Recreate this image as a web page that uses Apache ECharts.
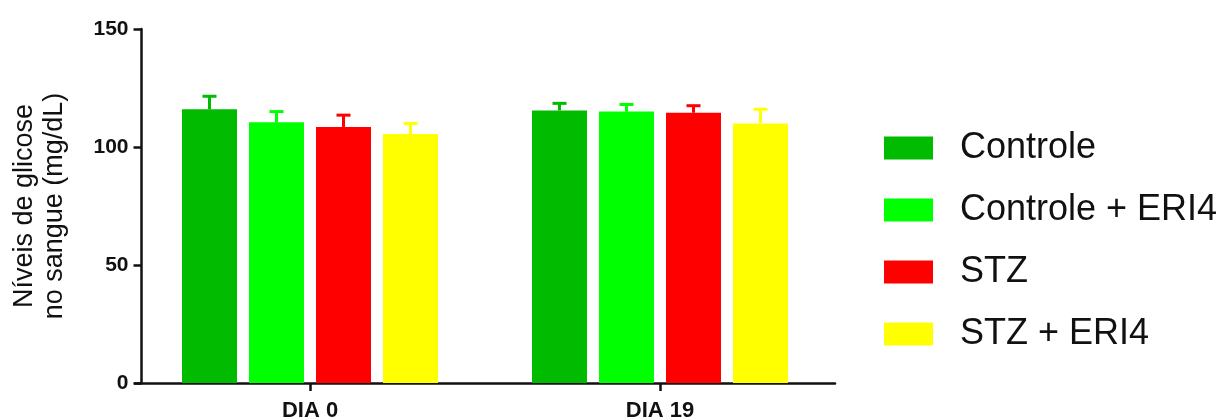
<!DOCTYPE html>
<html>
<head>
<meta charset="utf-8">
<script src="https://cdn.jsdelivr.net/npm/echarts@6/dist/echarts.min.js"></script>
<style>
html,body{margin:0;padding:0;background:#fff;}
#chart{width:1227px;height:419px;}
</style>
</head>
<body>
<div id="chart"></div>
<script>
const categories = ['DIA 0', 'DIA 19'];
const seriesNames = ['Controle', 'Controle + ERI4', 'STZ', 'STZ + ERI4'];
const controleMean = [116, 115.5];
const controleErr = [5.5, 3];
const controleEriMean = [110.5, 115];
const controleEriErr = [4.5, 3];
const stzMean = [108.5, 114.5];
const stzErr = [5, 3];
const stzEriMean = [105.5, 110];
const stzEriErr = [4.5, 6];
const yTicks = [0, 50, 100, 150];

const colors = ['#00bb00', '#00ff00', '#ff0000', '#ffff00'];
const means = [controleMean, controleEriMean, stzMean, stzEriMean];
const errs = [controleErr, controleEriErr, stzErr, stzEriErr];

const FONT = 'Arial, "Liberation Sans", sans-serif';
const BAR_W = 55;
const BAR_GAP_PX = 12;

const series = [];
means.forEach((m, i) => {
  series.push({
    name: seriesNames[i],
    type: 'bar',
    data: m,
    barWidth: BAR_W,
    barGap: (BAR_GAP_PX / BAR_W * 100) + '%',
    itemStyle: { color: colors[i] },
    z: 2
  });
});
means.forEach((m, i) => {
  const n = means.length;
  series.push({
    name: seriesNames[i],
    type: 'custom',
    z: 3,
    data: m.map((v, k) => [k, v, v + errs[i][k]]),
    renderItem: function (params, api) {
      const base = api.coord([api.value(0), api.value(1)]);
      const top = api.coord([api.value(0), api.value(2)]);
      const off = (i - (n - 1) / 2) * (BAR_W + BAR_GAP_PX);
      const x = base[0] + off;
      const style = { stroke: colors[i], lineWidth: 3 };
      return {
        type: 'group',
        children: [
          { type: 'line', shape: { x1: x, y1: base[1], x2: x, y2: top[1] }, style: style },
          { type: 'line', shape: { x1: x - 7, y1: top[1], x2: x + 7, y2: top[1] }, style: style }
        ]
      };
    }
  });
});

const chart = echarts.init(document.getElementById('chart'));
chart.setOption({
  animation: false,
  backgroundColor: '#ffffff',
  grid: { left: 135, right: 392, top: 29, bottom: 36, containLabel: false, outerBoundsMode: 'none' },
  legend: {
    orient: 'vertical',
    left: 884,
    top: 130,
    padding: 0,
    itemWidth: 49,
    itemHeight: 23,
    itemGap: 26,
    icon: 'rect',
    data: seriesNames,
    textStyle: { fontFamily: FONT, fontSize: 36, color: '#111', padding: [0, 0, 0, 22], lineHeight: 36 }
  },
  xAxis: {
    type: 'category',
    data: categories,
    axisLine: { show: true, lineStyle: { color: '#111', width: 2.5 } },
    axisTick: { show: true, alignWithLabel: true, length: 8, lineStyle: { color: '#111', width: 2.5 } },
    axisLabel: { fontFamily: FONT, fontSize: 22, fontWeight: 'bold', color: '#111', margin: 17 }
  },
  yAxis: {
    type: 'value',
    min: 0,
    max: 150,
    interval: 50,
    offset: -6.5,
    name: 'Níveis de glicose\nno sangue (mg/dL)',
    nameLocation: 'middle',
    nameGap: 72,
    nameTextStyle: { fontFamily: FONT, fontSize: 27, color: '#111', lineHeight: 30 },
    axisLine: { show: true, lineStyle: { color: '#111', width: 2.5 } },
    axisTick: { show: true, length: 8, lineStyle: { color: '#111', width: 2.5 } },
    splitLine: { show: false },
    axisLabel: {
      fontFamily: FONT, fontSize: 21, fontWeight: 'bold', color: '#111', margin: 13,
      formatter: function (v) { return yTicks.indexOf(v) >= 0 ? String(v) : ''; }
    }
  },
  series: series
});
</script>
</body>
</html>
